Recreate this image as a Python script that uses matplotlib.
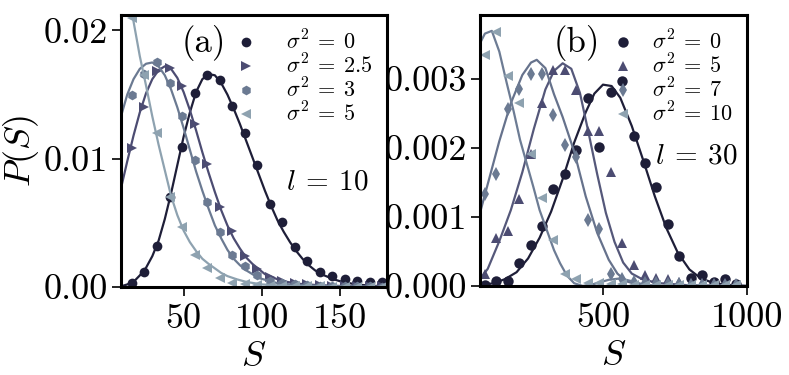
import matplotlib
matplotlib.use("Agg")
import matplotlib.pyplot as plt
from matplotlib.ticker import FixedLocator, FormatStrFormatter

plt.rcParams['font.family'] = 'serif'
plt.rcParams['font.serif'] = ['cmr10']
plt.rcParams['mathtext.fontset'] = 'cm'
plt.rcParams['axes.formatter.use_mathtext'] = True
plt.rcParams['axes.unicode_minus'] = False

# ---------------- Panel (a): l = 10 ----------------
Sa = [17, 25, 33, 41, 49, 57, 65, 73, 81, 89, 97, 105, 113, 121, 129, 137, 145, 153, 161, 169, 177]
a_s0 = [0.00033, 0.0012, 0.0032, 0.0070, 0.0109, 0.0151, 0.0165, 0.0161, 0.0141, 0.0120, 0.0095,
        0.0065, 0.0051, 0.0031, 0.0020, 0.0012, 0.00086, 0.0006, 0.0005, 0.0004, 0.0004]
a_s25 = [0.0108, 0.0140, 0.0168, 0.0171, 0.0157, 0.0127, 0.0096, 0.0062, 0.0044, 0.0024, 0.0014,
         0.0008, 0.00047, 0.0003, 0.0002, 0.00015, 0.0001, 0.0001, 0.00008, 0.00006, 0.00005]
a_s3 = [0.0150, 0.0166, 0.0175, 0.0159, 0.0133, 0.0099, 0.0066, 0.0043, 0.0025, 0.0016, 0.0009,
        0.0005, 0.0003, 0.0002, 0.00012, 0.0001, 0.00008, 0.00006, 0.00005, 0.00004, 0.00003]
a_s5 = [0.0210, 0.0165, 0.0120, 0.0070, 0.0047, 0.0025, 0.00145, 0.0007, 0.0003, 0.0002, 0.00012,
        0.0001, 0.00008, 0.00006, 0.00005, 0.00004, 0.00003, 0.00003, 0.00002, 0.00002, 0.00002]

fa0_S = [10, 14, 18, 22, 26, 30, 34, 38, 42, 46, 50, 54, 58, 62, 66, 70, 74, 78, 82, 86, 90, 94, 98,
         102, 106, 110, 114, 118, 122, 126, 130, 134, 138, 142, 146, 150, 160, 170, 180]
fa0_P = [0.00005, 0.0002, 0.0004, 0.0009, 0.0015, 0.0024, 0.0036, 0.0053, 0.0073, 0.0095, 0.0117,
         0.0136, 0.0152, 0.0162, 0.0166, 0.0165, 0.0159, 0.0150, 0.0139, 0.0127, 0.0114, 0.0101,
         0.0088, 0.0075, 0.0063, 0.0052, 0.0043, 0.0035, 0.0028, 0.0022, 0.0017, 0.0013, 0.0010,
         0.0008, 0.0006, 0.00045, 0.0002, 0.0001, 0.00005]
fa25_S = [10, 14, 18, 22, 26, 30, 34, 38, 42, 46, 50, 54, 58, 62, 66, 70, 74, 78, 82, 86, 90, 94,
          98, 102, 106, 110, 116, 124, 135, 150, 180]
fa25_P = [0.0077, 0.0098, 0.0118, 0.0136, 0.0151, 0.0162, 0.0169, 0.0172, 0.0170, 0.0163, 0.0152,
          0.0138, 0.0122, 0.0105, 0.0089, 0.0074, 0.0060, 0.0048, 0.0038, 0.0030, 0.0023, 0.0018,
          0.0014, 0.0010, 0.0008, 0.0006, 0.0004, 0.00025, 0.00015, 0.00008, 0.00002]
fa3_S = [10, 14, 18, 22, 26, 30, 34, 38, 42, 46, 50, 54, 58, 62, 66, 70, 74, 78, 82, 86, 90, 94, 98,
         104, 110, 120, 135, 150, 180]
fa3_P = [0.0133, 0.0150, 0.0162, 0.0170, 0.0174, 0.0175, 0.0172, 0.0165, 0.0154, 0.0140, 0.0124,
         0.0107, 0.0090, 0.0075, 0.0061, 0.0048, 0.0038, 0.0029, 0.0022, 0.0017, 0.0013, 0.0010,
         0.0007, 0.0005, 0.0003, 0.00018, 0.0001, 0.00005, 0.00001]
fa5_S = [10, 14, 18, 22, 26, 30, 34, 38, 42, 46, 50, 54, 58, 62, 66, 70, 74, 78, 84, 90, 100, 120,
         150, 180]
fa5_P = [0.0270, 0.0238, 0.0207, 0.0180, 0.0157, 0.0133, 0.0111, 0.0091, 0.0071, 0.0056, 0.0044,
         0.0035, 0.0028, 0.0022, 0.0018, 0.00145, 0.0011, 0.00085, 0.0006, 0.0004, 0.0002, 0.00006,
         0.00001, 0.0]

# ---------------- Panel (b): l = 30 ----------------
Sb = [90, 130, 169, 209, 249, 288, 328, 368, 408, 447, 487, 527, 566, 606, 646, 685, 725, 765,
      805, 844, 884, 924, 963]
b_s0 = [0.00001, 0.00007, 0.00007, 0.00034, 0.00059, 0.00087, 0.0014, 0.00162, 0.00197, 0.00273,
        0.00202, 0.00282, 0.00298, 0.00217, 0.00179, 0.00143, 0.00090, 0.00044, 0.00012, 0.00016,
        0.00006, 0.0001, 0.00003]
b_s5 = [0.00018, 0.00069, 0.00080, 0.00126, 0.00192, 0.00265, 0.00313, 0.00313, 0.00284, 0.00225,
        0.00225, 0.00166, 0.00062, 0.00030, 0.00016, 0.00012, 0.0001, 0.00006, 0.00004, 0.00004,
        0.00003, 0.00002, 0.00002]
b_s7 = [0.00134, 0.00163, 0.00257, 0.00285, 0.00308, 0.00308, 0.00248, 0.00205, 0.00187, 0.00095,
        0.00083, 0.00017, 0.00010, 0.00006, 0.00005, 0.00004, 0.00003, 0.00003, 0.00002, 0.00002,
        0.00002, 0.00001, 0.00001]
b_s10 = [0.00335, 0.00368, 0.00305, 0.00266, 0.00192, 0.00128, 0.00066, 0.00018, 0.00010, 0.00005,
         0.00004, 0.00003, 0.00003, 0.00002, 0.00002, 0.00002, 0.00001, 0.00001, 0.00001, 0.00001,
         0.00001, 0.00001, 0.00001]

fb0_S = [73, 120, 160, 200, 240, 280, 320, 360, 400, 440, 470, 500, 530, 560, 600, 640, 680, 720,
         760, 800, 840, 880, 920, 1000]
fb0_P = [0.00001, 0.00004, 0.0001, 0.0002, 0.00040, 0.00070, 0.00108, 0.00155, 0.00208, 0.00252,
         0.00279, 0.00292, 0.00290, 0.00273, 0.00232, 0.00182, 0.00130, 0.00084, 0.00048, 0.00024,
         0.00011, 0.00005, 0.00002, 0.0]
fb5_S = [73, 100, 140, 180, 220, 260, 300, 330, 360, 390, 420, 450, 480, 510, 540, 570, 600, 640,
         700, 800, 1000]
fb5_P = [0.00010, 0.00025, 0.00065, 0.00110, 0.00165, 0.00228, 0.00285, 0.00312, 0.00323, 0.00315,
         0.00280, 0.00222, 0.00162, 0.00106, 0.00064, 0.00034, 0.00018, 0.00009, 0.00004, 0.00001,
         0.0]
fb7_S = [73, 100, 140, 180, 220, 250, 270, 300, 330, 360, 400, 440, 480, 520, 550, 580, 620, 700,
         1000]
fb7_P = [0.00106, 0.00148, 0.00210, 0.00265, 0.00306, 0.00324, 0.00328, 0.00316, 0.00278, 0.00245,
         0.00195, 0.00130, 0.00077, 0.00038, 0.00018, 0.00007, 0.00002, 0.0, 0.0]
fb10_S = [73, 90, 114, 140, 166, 190, 212, 235, 258, 280, 305, 330, 351, 375, 400, 430, 470, 520,
          560, 600, 650, 700, 1000]
fb10_P = [0.00352, 0.00366, 0.00370, 0.00340, 0.00294, 0.00253, 0.00212, 0.00178, 0.00144, 0.00110,
          0.00081, 0.00052, 0.00033, 0.00015, 0.00004, 0.0, 0.00003, 0.00009, 0.00011, 0.00007,
          0.00001, 0.0, 0.0]

labels_a = [r'$\sigma^2\:=\:0$', r'$\sigma^2\:=\:2.5$', r'$\sigma^2\:=\:3$', r'$\sigma^2\:=\:5$']
labels_b = [r'$\sigma^2\:=\:0$', r'$\sigma^2\:=\:5$', r'$\sigma^2\:=\:7$', r'$\sigma^2\:=\:10$']

marker_colors = ['#1e1e38', '#4c4c72', '#6b7a92', '#8ea2b0']
line_colors_a = ['#1e1e38', '#4c4c72', '#6b7a92', '#8ea2b0']
line_colors_b = ['#1e1e38', '#55587a', '#66728c', '#6d7c94']

fig = plt.figure(figsize=(7.89, 3.75), dpi=100)
axa = fig.add_axes([121/789, 1-287/375, 266/789, 272/375])
axb = fig.add_axes([480/789, 1-286/375, 267/789, 271/375])

fits_a = [(fa0_S, fa0_P), (fa25_S, fa25_P), (fa3_S, fa3_P), (fa5_S, fa5_P)]
pts_a = [a_s0, a_s25, a_s3, a_s5]
mk_a = ['o', '>', 'h', '<']
for (fs, fp), pts, mk, c, lc, lab in zip(fits_a, pts_a, mk_a, marker_colors, line_colors_a, labels_a):
    axa.plot(fs, fp, '-', color=lc, lw=1.6)
    axa.plot(Sa, pts, mk, color=c, ms=7, mew=0, label=lab)

fits_b = [(fb0_S, fb0_P), (fb5_S, fb5_P), (fb7_S, fb7_P), (fb10_S, fb10_P)]
pts_b = [b_s0, b_s5, b_s7, b_s10]
mk_b = ['o', '^', 'd', '<']
for (fs, fp), pts, mk, c, lc, lab in zip(fits_b, pts_b, mk_b, marker_colors, line_colors_b, labels_b):
    axb.plot(fs, fp, '-', color=lc, lw=1.6)
    axb.plot(Sb, pts, mk, color=c, ms=7.5, mew=0, label=lab)

axa.set_xlim(10, 180)
axa.set_ylim(0, 0.0212)
axa.xaxis.set_major_locator(FixedLocator([50, 100, 150]))
axa.yaxis.set_major_locator(FixedLocator([0.0, 0.01, 0.02]))
axa.yaxis.set_major_formatter(FormatStrFormatter('%.2f'))
axa.xaxis.set_major_formatter(FormatStrFormatter('%d'))

axb.set_xlim(73, 1000)
axb.set_ylim(0, 0.00393)
axb.xaxis.set_major_locator(FixedLocator([500, 1000]))
axb.yaxis.set_major_locator(FixedLocator([0.0, 0.001, 0.002, 0.003]))
axb.yaxis.set_major_formatter(FormatStrFormatter('%.3f'))
axb.xaxis.set_major_formatter(FormatStrFormatter('%d'))

for ax in (axa, axb):
    for sp in ax.spines.values():
        sp.set_linewidth(2.2)
    ax.tick_params(direction='out', length=6.5, width=1.2, labelsize=26)
    ax.tick_params(axis='x', pad=5)
    ax.tick_params(axis='y', pad=3)
    ax.set_xlabel('$S$', fontsize=26, labelpad=5)

axa.set_ylabel('$P(S)$', fontsize=26, labelpad=2)

axa.text(0.312, 0.897, '(a)', transform=axa.transAxes, fontsize=25, ha='center', va='center')
axa.text(0.778, 0.384, r'$l\:=\:10$', transform=axa.transAxes, fontsize=21, ha='center', va='center')
axb.text(0.363, 0.897, '(b)', transform=axb.transAxes, fontsize=25, ha='center', va='center')
axb.text(0.81, 0.48, r'$l\:=\:30$', transform=axb.transAxes, fontsize=21, ha='center', va='center')

axa.legend(loc='upper right', frameon=False, fontsize=16, handlelength=2.0, handletextpad=0.8,
           labelspacing=0.0, borderaxespad=0.35, borderpad=0.3, numpoints=1)
axb.legend(loc='upper right', frameon=False, fontsize=16, handlelength=1.2, handletextpad=0.7,
           labelspacing=0.0, borderaxespad=0.35, borderpad=0.3, numpoints=1)

fig.savefig('out.png', dpi=100)
